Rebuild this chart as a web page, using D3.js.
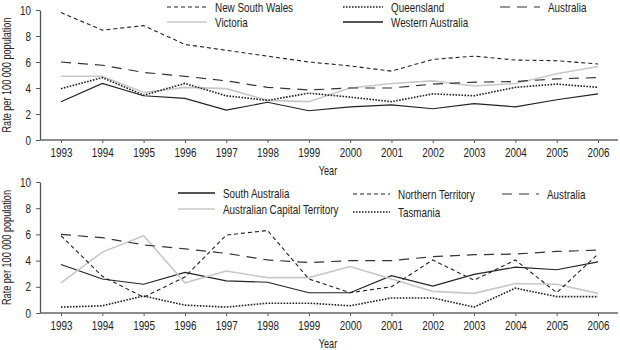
<!DOCTYPE html>
<html><head><meta charset="utf-8">
<script src="https://cdn.jsdelivr.net/npm/d3@7"></script>
<style>
body{margin:0;background:#fff;}
svg text{font-family:"Liberation Sans",Arial,sans-serif;fill:#222;}
</style></head>
<body><svg id="c" width="620" height="350"></svg>
<script>
const years = [1993,1994,1995,1996,1997,1998,1999,2000,2001,2002,2003,2004,2005,2006];
const yTicks = [0,2,4,6,8,10];
const nsw = [9.8,8.45,8.8,7.35,6.9,6.45,6.0,5.7,5.3,6.2,6.45,6.15,6.1,5.85];
const vic = [4.9,4.9,3.65,4.05,3.95,3.05,2.95,4.0,4.35,4.55,4.15,4.35,5.1,5.65];
const qld = [3.95,4.8,3.45,4.35,3.4,3.05,3.6,3.3,2.95,3.55,3.4,4.05,4.3,4.05];
const wa  = [2.95,4.35,3.4,3.2,2.3,2.9,2.25,2.55,2.7,2.4,2.8,2.55,3.1,3.55];
const aus = [6.0,5.75,5.2,4.9,4.55,4.05,3.85,4.0,4.0,4.3,4.45,4.5,4.7,4.8];
const sa  = [3.7,2.6,2.2,3.1,2.45,2.35,1.55,1.55,2.85,2.05,2.95,3.5,3.3,3.9];
const act = [2.3,4.65,5.9,2.3,3.2,2.7,2.7,3.55,2.6,1.65,1.5,2.25,2.2,1.5];
const nt  = [5.9,2.8,1.2,2.75,5.95,6.3,2.6,1.55,2.0,4.05,2.5,4.05,1.55,4.5];
const tas = [0.45,0.55,1.3,0.6,0.45,0.75,0.75,0.55,1.15,1.15,0.45,1.9,1.25,1.25];

const SX = 0.76;
const styles = {
  shortDash:{stroke:"#222",dash:"4,3",w:1.1},
  light:{stroke:"#c8c8c8",dash:null,w:1.6},
  dotted:{stroke:"#222",dash:"1.6,1.4",w:1.6},
  solid:{stroke:"#222",dash:null,w:1.1},
  longDash:{stroke:"#333",dash:"10,7",w:1.2}
};

const topSeries = [
  {name:"New South Wales",values:nsw,style:"shortDash",lx:167,ly:7},
  {name:"Victoria",values:vic,style:"light",lx:167,ly:22},
  {name:"Queensland",values:qld,style:"dotted",lx:343,ly:7},
  {name:"Western Australia",values:wa,style:"solid",lx:343,ly:22},
  {name:"Australia",values:aus,style:"longDash",lx:500,ly:7}
];
const botSeries = [
  {name:"South Australia",values:sa,style:"solid",lx:178,ly:193},
  {name:"Australian Capital Territory",values:act,style:"light",lx:178,ly:209},
  {name:"Northern Territory",values:nt,style:"shortDash",lx:353,ly:194},
  {name:"Tasmania",values:tas,style:"dotted",lx:353,ly:212},
  {name:"Australia",values:aus,style:"longDash",lx:502,ly:194}
];

const svg = d3.select("#c");
const x = d3.scaleLinear().domain([1993,2006]).range([61,598]);

function txt(g, tx, ty, s, size, anchor, rot){
  return g.append("text")
    .attr("transform",`translate(${tx},${ty})${rot?" rotate(-90)":""} scale(${SX},1)`)
    .attr("text-anchor",anchor||"start").attr("dy","0.35em")
    .attr("font-size",size).text(s);
}

function panel(series, yTop, yBot, lw){
  const y = d3.scaleLinear().domain([0,10]).range([yBot,yTop]);
  const g = svg.append("g");
  const ya = g.append("g").attr("transform","translate(40,0)")
    .call(d3.axisLeft(y).tickValues(yTicks).tickSize(4).tickSizeOuter(0));
  ya.select(".domain").attr("stroke","#555").attr("stroke-width",1.3);
  ya.selectAll(".tick line").attr("stroke","#555");
  ya.selectAll(".tick text").attr("font-size",13).attr("x",-9/SX)
    .attr("transform",`scale(${SX},1)`).attr("fill","#222");
  const xa = g.append("g").attr("transform",`translate(0,${yBot})`)
    .call(d3.axisBottom(x).tickValues(years).tickFormat(d3.format("d")).tickSize(3).tickSizeOuter(0));
  xa.select(".domain").remove();
  xa.selectAll(".tick line").attr("stroke","#555");
  xa.selectAll(".tick text").attr("font-size",13).attr("y",8)
    .attr("transform",`scale(${SX},1)`).attr("fill","#222");
  g.append("line").attr("x1",40).attr("x2",618).attr("y1",yBot).attr("y2",yBot)
    .attr("stroke","#666").attr("stroke-width",1.6);
  txt(g, 328, yBot+31, "Year", 12, "middle");
  txt(g, 7, (yTop+yBot)/2, "Rate per 100 000 population", 12, "middle", true);
  const line = d3.line().x((d,i)=>x(years[i])).y(d=>y(d));
  series.forEach(s=>{
    const st = styles[s.style];
    g.append("path").datum(s.values).attr("d",line).attr("fill","none")
      .attr("stroke",st.stroke).attr("stroke-width",st.w)
      .attr("stroke-dasharray",st.dash);
    g.append("line").attr("x1",s.lx).attr("x2",s.lx+lw).attr("y1",s.ly).attr("y2",s.ly)
      .attr("stroke",s.style==="solid"?"#555":st.stroke).attr("stroke-width",s.style==="solid"?1.8:st.w)
      .attr("stroke-dasharray",st.dash);
    txt(g, s.lx+lw+8, s.ly, s.name, 13, "start");
  });
}
panel(topSeries,10,140,40);
panel(botSeries,182,313,37);
</script></body></html>
